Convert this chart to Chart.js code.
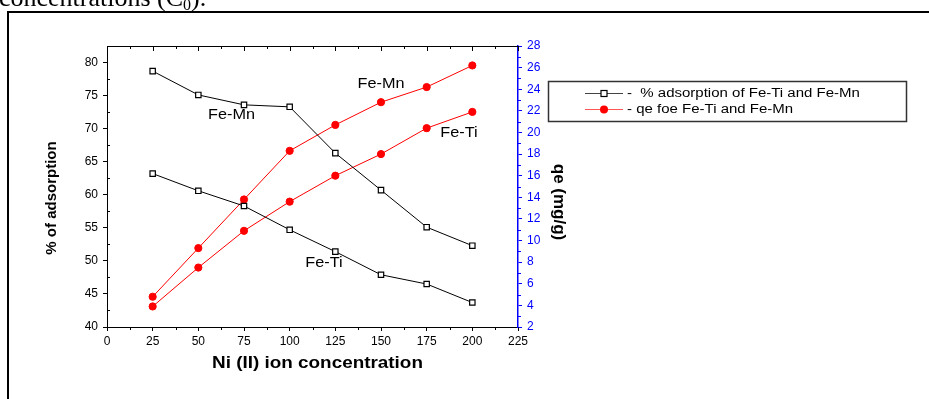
<!DOCTYPE html>
<html><head><meta charset="utf-8">
<script src="https://cdn.jsdelivr.net/npm/chart.js@4.4.1/dist/chart.umd.min.js"></script>
<style>html,body{margin:0;padding:0;background:#fff;}#wrap{position:relative;width:929px;height:399px;}</style>
</head><body><div id="wrap"><canvas id="c"></canvas></div>
<script>
// ---- data ----
const concentrations = [25, 50, 75, 100, 125, 150, 175, 200];
const adsorptionFeMn = [78.7, 75.1, 73.6, 73.3, 66.3, 60.7, 55.1, 52.3];
const adsorptionFeTi = [63.2, 60.6, 58.3, 54.7, 51.4, 47.9, 46.5, 43.7];
const qeFeMn = [4.8, 9.3, 13.8, 18.3, 20.7, 22.8, 24.2, 26.2];
const qeFeTi = [3.9, 7.5, 10.9, 13.6, 16.0, 18.0, 20.4, 21.9];
const xTickValues = [0, 25, 50, 75, 100, 125, 150, 175, 200, 225];
const leftTickValues = [40, 45, 50, 55, 60, 65, 70, 75, 80];
const rightTickValues = [2, 4, 6, 8, 10, 12, 14, 16, 18, 20, 22, 24, 26, 28];
const legendLabels = ['-  % adsorption of Fe-Ti and Fe-Mn', '- qe foe Fe-Ti and Fe-Mn'];
const xTitle = 'Ni (II) ion concentration';
const leftTitle = '% of adsorption';
const rightTitle = 'qe (mg/g)';
// annotation text and its anchor in data units (x, left axis)
const annotations = [
  {text: 'Fe-Mn', x: 68.2, y: 72.0},
  {text: 'Fe-Mn', x: 150.0, y: 76.7},
  {text: 'Fe-Ti', x: 192.7, y: 69.3},
  {text: 'Fe-Ti', x: 118.8, y: 49.7}
];

const FONT = '"Liberation Sans", Arial, sans-serif';
const SERIF = '"Liberation Serif", "Times New Roman", serif';
const BLUE = '#0000ff';
const toPts = arr => concentrations.map((c, i) => ({x: c, y: arr[i]}));

function txt(ctx, s, x, y, font, sx, align, color) {
  ctx.save();
  ctx.font = font; ctx.fillStyle = color || '#000';
  ctx.textAlign = align || 'left'; ctx.textBaseline = 'middle';
  ctx.translate(x, y); ctx.scale(sx || 1, 1);
  ctx.fillText(s, 0, 0);
  ctx.restore();
}

const decor = {
  id: 'decor',
  beforeDraw(chart) {
    const ctx = chart.ctx;
    ctx.save(); ctx.fillStyle = '#fff'; ctx.fillRect(0, 0, chart.width, chart.height); ctx.restore();
  },
  afterDraw(chart) {
    const {ctx, chartArea: a, scales} = chart;
    const xs = scales.x, yl = scales.y, yr = scales.y1;
    ctx.save();
    ctx.lineWidth = 1; ctx.strokeStyle = '#000';
    // top axis line + inward ticks
    ctx.beginPath();
    ctx.moveTo(a.left, Math.round(a.top) + 0.5); ctx.lineTo(a.right, Math.round(a.top) + 0.5);
    xTickValues.forEach(v => { const p = Math.round(xs.getPixelForValue(v)) + 0.5; ctx.moveTo(p, a.top); ctx.lineTo(p, a.top + 5); });
    for (let i = 0; i < xTickValues.length - 1; i++) {
      const v = (xTickValues[i] + xTickValues[i + 1]) / 2;
      const p = Math.round(xs.getPixelForValue(v)) + 0.5;
      ctx.moveTo(p, a.top); ctx.lineTo(p, a.top + 3);
      ctx.moveTo(p, a.bottom); ctx.lineTo(p, a.bottom + 3);
    }
    // left minor ticks (inward)
    for (let i = 0; i < leftTickValues.length - 1; i++) {
      const v = (leftTickValues[i] + leftTickValues[i + 1]) / 2;
      const p = Math.round(yl.getPixelForValue(v)) + 0.5;
      ctx.moveTo(a.left, p); ctx.lineTo(a.left + 3, p);
    }
    ctx.stroke();
    // right minor ticks
    ctx.strokeStyle = BLUE; ctx.beginPath();
    for (let i = 0; i < rightTickValues.length - 1; i++) {
      const v = (rightTickValues[i] + rightTickValues[i + 1]) / 2;
      const p = Math.round(yr.getPixelForValue(v)) + 0.5;
      ctx.moveTo(a.right, p); ctx.lineTo(a.right + 3, p);
    }
    ctx.stroke();

    // annotations
    annotations.forEach(an => {
      txt(ctx, an.text, xs.getPixelForValue(an.x), yl.getPixelForValue(an.y), '14px ' + FONT, 1.16, 'center');
    });

    // axis titles
    txt(ctx, xTitle, (a.left + a.right) / 2 + 5, 364, 'bold 16px ' + FONT, 1.18, 'center');
    ctx.save(); ctx.translate(52, 198); ctx.rotate(-Math.PI / 2);
    txt(ctx, leftTitle, 0, 0, 'bold 15px ' + FONT, 1, 'center'); ctx.restore();
    ctx.save(); ctx.translate(559, 202); ctx.rotate(Math.PI / 2);
    txt(ctx, rightTitle, 0, 0, 'bold 17px ' + FONT, 1, 'center'); ctx.restore();

    // legend
    ctx.lineWidth = 1.5; ctx.strokeStyle = '#333';
    ctx.strokeRect(548.5, 81.5, 358, 40);
    // entry 1
    ctx.lineWidth = 1; ctx.strokeStyle = '#444';
    ctx.beginPath(); ctx.moveTo(585, 93.5); ctx.lineTo(623, 93.5); ctx.stroke();
    ctx.fillStyle = '#fff'; ctx.fillRect(601, 90.5, 6, 6);
    ctx.strokeStyle = '#000'; ctx.lineWidth = 1.2; ctx.strokeRect(601, 90.5, 6, 6);
    txt(ctx, legendLabels[0], 627, 94, '12px ' + FONT, 1.25, 'left');
    // entry 2
    ctx.lineWidth = 1; ctx.strokeStyle = '#ff5555';
    ctx.beginPath(); ctx.moveTo(585, 109.5); ctx.lineTo(623, 109.5); ctx.stroke();
    ctx.fillStyle = '#ff0000'; ctx.beginPath(); ctx.arc(604, 109.5, 4, 0, Math.PI * 2); ctx.fill();
    txt(ctx, legendLabels[1], 627, 110, '12px ' + FONT, 1.25, 'left');

    // outer frame
    ctx.fillStyle = '#000';
    ctx.fillRect(7, 11, 2, chart.height - 11);
    ctx.fillRect(7, 11, chart.width - 7, 2);

    // caption fragment at top (cut off)
    ctx.font = '26px ' + SERIF; ctx.fillStyle = '#000'; ctx.textBaseline = 'alphabetic'; ctx.textAlign = 'left';
    const s1 = 'concentrations (C';
    ctx.fillText(s1, -1, 6);
    let w = ctx.measureText(s1).width - 1;
    ctx.font = '16px ' + SERIF; ctx.fillText('0', w, 10);
    w += ctx.measureText('0').width;
    ctx.font = '26px ' + SERIF; ctx.fillText(').', w, 6);
    ctx.restore();
  }
};

const chart = new Chart(document.getElementById('c'), {
  type: 'line',
  data: {
    datasets: [
      {label: 'Fe-Mn adsorption', data: toPts(adsorptionFeMn), yAxisID: 'y', borderColor: '#000', borderWidth: 1,
       pointStyle: 'rect', pointRadius: 3.8, pointBackgroundColor: '#fff', pointBorderColor: '#000', pointBorderWidth: 1.2},
      {label: 'Fe-Ti adsorption', data: toPts(adsorptionFeTi), yAxisID: 'y', borderColor: '#000', borderWidth: 1,
       pointStyle: 'rect', pointRadius: 3.8, pointBackgroundColor: '#fff', pointBorderColor: '#000', pointBorderWidth: 1.2},
      {label: 'Fe-Mn qe', data: toPts(qeFeMn), yAxisID: 'y1', borderColor: '#ff0000', borderWidth: 1,
       pointStyle: 'circle', pointRadius: 3.6, pointBackgroundColor: '#ff0000', pointBorderColor: '#ff0000', pointBorderWidth: 1},
      {label: 'Fe-Ti qe', data: toPts(qeFeTi), yAxisID: 'y1', borderColor: '#ff0000', borderWidth: 1,
       pointStyle: 'circle', pointRadius: 3.6, pointBackgroundColor: '#ff0000', pointBorderColor: '#ff0000', pointBorderWidth: 1}
    ]
  },
  options: {
    responsive: true, maintainAspectRatio: false, animation: false, devicePixelRatio: 1,
    layout: {padding: {top: 46, left: 0, right: 0, bottom: 0}},
    plugins: {legend: {display: false}, tooltip: {enabled: false}},
    elements: {line: {tension: 0}},
    scales: {
      x: {type: 'linear', position: 'bottom', min: 0, max: 225,
        afterBuildTicks: s => { s.ticks = xTickValues.map(v => ({value: v})); },
        afterFit: s => { s.height = 72; },
        ticks: {color: '#000', font: {family: FONT, size: 12}, padding: 3, maxRotation: 0, autoSkip: false},
        grid: {display: true, drawOnChartArea: false, drawTicks: true, tickLength: 4, color: '#000'},
        border: {display: true, color: '#000', width: 1}},
      y: {type: 'linear', position: 'left', min: 40, max: 82.5,
        afterBuildTicks: s => { s.ticks = leftTickValues.map(v => ({value: v})); },
        afterFit: s => { s.width = 107; },
        ticks: {color: '#000', font: {family: FONT, size: 12}, padding: 5, autoSkip: false},
        grid: {display: true, drawOnChartArea: false, drawTicks: true, tickLength: 4, color: '#000'},
        border: {display: true, color: '#000', width: 1}},
      y1: {type: 'linear', position: 'right', min: 2, max: 28,
        afterBuildTicks: s => { s.ticks = rightTickValues.map(v => ({value: v})); },
        afterFit: s => { s.width = 411; },
        ticks: {color: BLUE, font: {family: FONT, size: 12}, padding: 5, autoSkip: false},
        grid: {display: true, drawOnChartArea: false, drawTicks: true, tickLength: 4, color: BLUE},
        border: {display: true, color: BLUE, width: 1.5}}
    }
  },
  plugins: [decor]
});
</script></body></html>
